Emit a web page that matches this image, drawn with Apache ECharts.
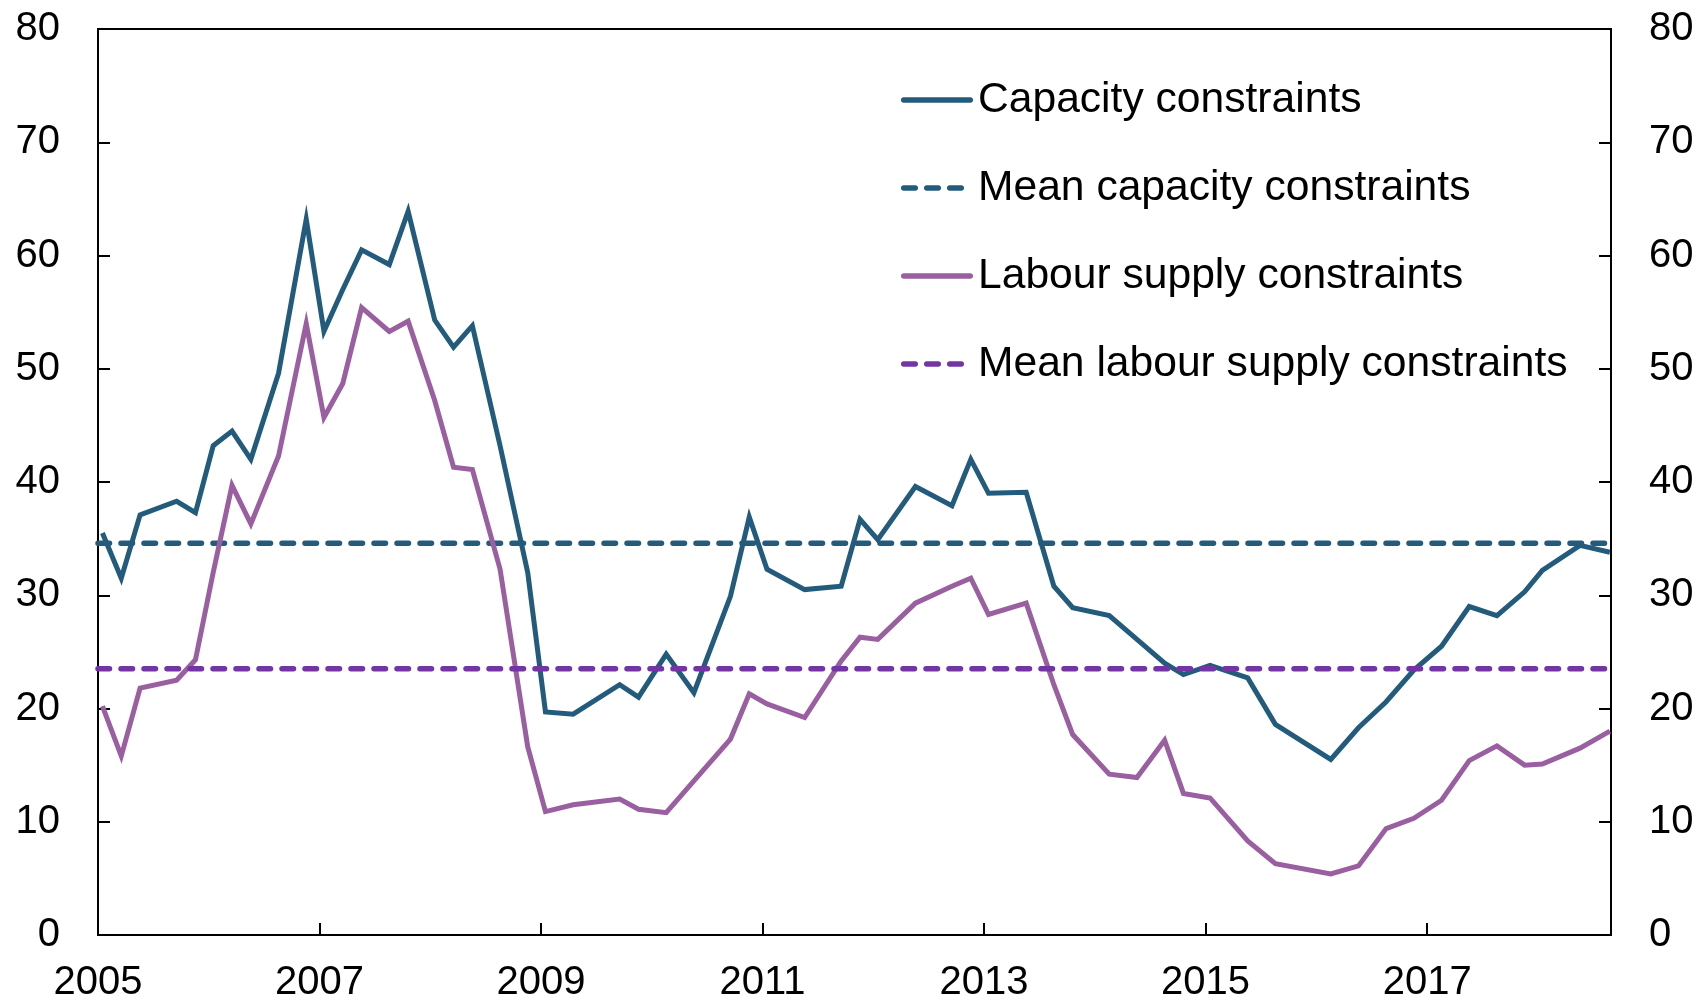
<!DOCTYPE html>
<html>
<head>
<meta charset="utf-8">
<script src="https://cdn.jsdelivr.net/npm/echarts@6/dist/echarts.min.js"></script>
<style>
html, body { margin: 0; padding: 0; background: #fff; }
#chart { width: 1702px; height: 1003px; }
</style>
</head>
<body>
<div id="chart"></div>
<script>
// survey dates (decimal years) and shares of firms reporting constraints
var surveyDates = [
    2005.04, 2005.21, 2005.38, 2005.71, 2005.88, 2006.04, 2006.21, 2006.38, 2006.63, 2006.88,
    2007.04, 2007.21, 2007.38, 2007.63, 2007.80, 2008.04, 2008.21, 2008.38, 2008.63, 2008.88,
    2009.04, 2009.29, 2009.71, 2009.88, 2010.13, 2010.38, 2010.71, 2010.88, 2011.04, 2011.38,
    2011.71, 2011.88, 2012.04, 2012.38, 2012.71, 2012.88, 2013.04, 2013.38, 2013.63, 2013.80,
    2014.13, 2014.38, 2014.63, 2014.80, 2015.04, 2015.38, 2015.63, 2016.13, 2016.38, 2016.63,
    2016.88, 2017.13, 2017.38, 2017.63, 2017.88, 2018.04, 2018.38, 2018.65
];
var capacityValues = [
    35.5, 31.5, 37.1, 38.3, 37.3, 43.2, 44.5, 42.0, 49.6, 63.2,
    53.3, 57.0, 60.5, 59.2, 63.9, 54.3, 51.9, 53.8, 43.2, 32.0,
    19.7, 19.5, 22.1, 21.0, 24.8, 21.4, 29.9, 36.9, 32.3, 30.5,
    30.8, 36.7, 34.9, 39.6, 37.9, 42.0, 39.0, 39.1, 30.8, 28.9,
    28.2, 26.1, 24.0, 23.0, 23.8, 22.7, 18.6, 15.5, 18.3, 20.6,
    23.4, 25.5, 29.0, 28.2, 30.3, 32.2, 34.4, 33.8
];
var labourValues = [
    20.2, 15.8, 21.8, 22.5, 24.3, 32.0, 39.7, 36.3, 42.3, 54.0,
    45.7, 48.7, 55.4, 53.3, 54.2, 47.2, 41.3, 41.1, 32.3, 16.6,
    10.9, 11.5, 12.0, 11.1, 10.8, 13.6, 17.3, 21.3, 20.4, 19.2,
    24.2, 26.3, 26.1, 29.3, 30.8, 31.5, 28.3, 29.3, 22.1, 17.7,
    14.2, 13.9, 17.2, 12.5, 12.1, 8.3, 6.3, 5.4, 6.1, 9.4,
    10.3, 11.9, 15.4, 16.7, 15.0, 15.1, 16.5, 18.0
];
var meanCapacity = 34.6;
var meanLabour = 23.5;
var seriesNames = [
    'Capacity constraints',
    'Mean capacity constraints',
    'Labour supply constraints',
    'Mean labour supply constraints'
];

var xMin = 2005, xMax = 2018.66;
var font = 'Liberation Sans, Arial, sans-serif';

// legend icons: rounded solid bar and three rounded dashes
var solidIcon = 'path://M2.75,0 H69.25 A2.75,2.75 0 0 1 69.25,5.5 H2.75 A2.75,2.75 0 0 1 2.75,0 Z';
var dashIcon = 'path://M2.75,0 H14.25 A2.75,2.75 0 0 1 14.25,5.5 H2.75 A2.75,2.75 0 0 1 2.75,0 Z' +
    ' M25.75,0 H37.25 A2.75,2.75 0 0 1 37.25,5.5 H25.75 A2.75,2.75 0 0 1 25.75,0 Z' +
    ' M48.75,0 H60.25 A2.75,2.75 0 0 1 60.25,5.5 H48.75 A2.75,2.75 0 0 1 48.75,0 Z' +
    ' M72,2.75 L72,2.75';

function pairs(values) {
    return surveyDates.map(function (d, i) { return [d, values[i]]; });
}
function flat(v) {
    return [[xMin, v], [xMax, v]];
}

var chartDom = document.getElementById('chart');
var myChart = echarts.init(chartDom);

var tick = { show: true, inside: true, length: 12, lineStyle: { color: '#000', width: 2 } };
var yLabel = { fontSize: 40, fontFamily: font, color: '#000', margin: 38 };

function yAxis(pos) {
    return {
        type: 'value', position: pos, min: 0, max: 80, interval: 10,
        axisLine: { show: false }, axisTick: tick, splitLine: { show: false },
        axisLabel: yLabel
    };
}

function lineSeries(name, data, color, dashed) {
    return {
        name: name, type: 'line', data: data, symbol: 'none',
        animation: false,
        lineStyle: dashed
            ? { color: color, width: 5.5, type: [11.5, 11.5], cap: 'round' }
            : { color: color, width: 5, join: 'miter' },
        itemStyle: { color: color }
    };
}

var colors = ['#235B7C', '#235B7C', '#9A5FA0', '#7334A4'];

var option = {
    backgroundColor: '#fff',
    animation: false,
    grid: {
        left: 98, right: 91, top: 29, bottom: 67,
        show: true, borderColor: '#000', borderWidth: 2, containLabel: false
    },
    legend: {
        orient: 'vertical', left: 901, top: 78, padding: 0,
        itemWidth: 72, itemHeight: 5.5, itemGap: 44,
        itemStyle: { borderWidth: 0 },
        textStyle: { fontSize: 42.6, fontFamily: font, color: '#000', lineHeight: 44 },
        data: seriesNames.map(function (n, i) {
            return { name: n, icon: i % 2 === 0 ? solidIcon : dashIcon, itemStyle: { color: colors[i] } };
        })
    },
    xAxis: {
        type: 'value', min: xMin, max: xMax, interval: 2,
        axisLine: { show: false }, axisTick: tick, splitLine: { show: false },
        axisLabel: {
            fontSize: 40, fontFamily: font, color: '#000', margin: 28,
            formatter: function (v) { return Math.abs(v - Math.round(v)) < 1e-6 ? String(Math.round(v)) : ''; }
        }
    },
    yAxis: [yAxis('left'), yAxis('right')],
    series: [
        lineSeries(seriesNames[0], pairs(capacityValues), colors[0], false),
        lineSeries(seriesNames[1], flat(meanCapacity), colors[1], true),
        lineSeries(seriesNames[2], pairs(labourValues), colors[2], false),
        lineSeries(seriesNames[3], flat(meanLabour), colors[3], true)
    ]
};

myChart.setOption(option);

window.addEventListener('resize', function () {
    myChart.resize();
});
</script>
</body>
</html>
